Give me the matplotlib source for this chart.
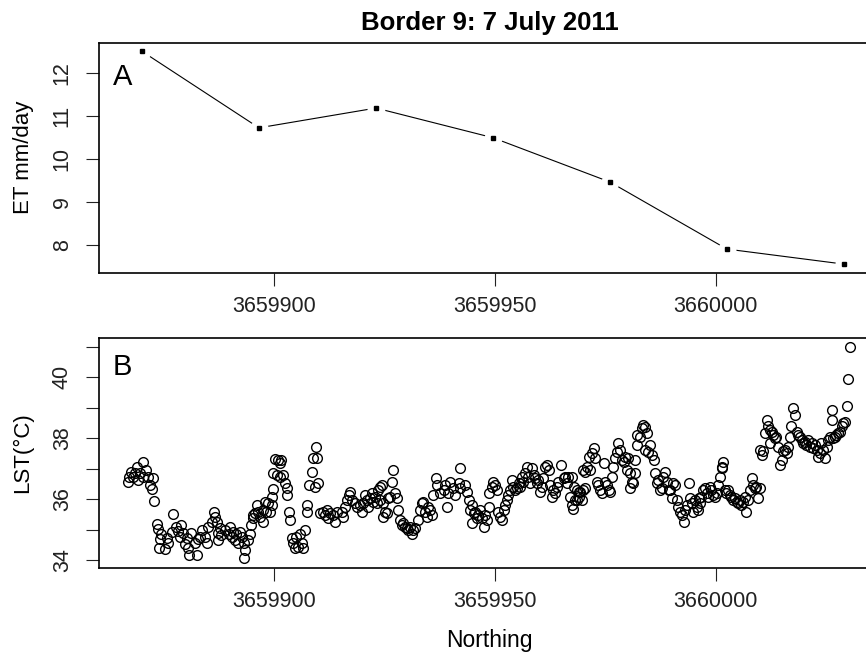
import matplotlib
matplotlib.use("Agg")
import matplotlib.pyplot as plt

plt.rcParams["font.family"] = ["Liberation Sans", "DejaVu Sans"]

# Panel A: ET along the border
et_north = [3659870.0, 3659896.5, 3659923.0, 3659949.5, 3659976.0, 3660002.5, 3660029.0]
et_vals = [12.50, 10.72, 11.18, 10.49, 9.46, 7.90, 7.55]

# Panel B: land surface temperature samples
lst_north = [
    3659870.3, 3659868.8, 3659867.6, 3659867.1, 3659866.9, 3659868.0, 3659869.5, 3659871.0,
    3659871.4, 3659872.5, 3659871.8, 3659872.2, 3659869.1, 3659870.3, 3659868.4, 3659872.8,
    3659873.3, 3659873.7, 3659874.4, 3659874.1, 3659875.6, 3659875.9, 3659875.2, 3659873.9,
    3659876.7, 3659877.1, 3659877.7, 3659878.2, 3659878.9, 3659878.6, 3659879.3, 3659880.1,
    3659879.7, 3659880.5, 3659880.7, 3659882.4, 3659881.2, 3659882.0, 3659882.7, 3659883.7,
    3659883.1, 3659884.2, 3659884.8, 3659885.0, 3659885.8, 3659886.3, 3659886.5, 3659887.0,
    3659887.3, 3659887.7, 3659888.0, 3659887.3, 3659888.8, 3659889.6, 3659889.9, 3659890.3,
    3659891.1, 3659890.7, 3659891.4, 3659892.2, 3659892.6, 3659891.8, 3659893.0, 3659893.3,
    3659893.0, 3659894.1, 3659894.5, 3659894.8, 3659895.2, 3659895.6, 3659896.0, 3659895.2,
    3659896.3, 3659896.7, 3659897.3, 3659897.5, 3659897.9, 3659898.2, 3659898.6, 3659899.0,
    3659899.4, 3659899.6, 3659899.4, 3659900.1, 3659900.9, 3659901.6, 3659901.3, 3659899.7,
    3659900.5, 3659901.3, 3659902.0, 3659902.4, 3659902.8, 3659902.9, 3659903.4, 3659903.5,
    3659903.9, 3659904.3, 3659904.7, 3659905.0, 3659905.8, 3659906.2, 3659906.9, 3659906.5,
    3659905.4, 3659907.3, 3659907.4, 3659907.9, 3659908.4, 3659908.8, 3659909.4, 3659909.6,
    3659909.9, 3659909.2, 3659910.3, 3659911.1, 3659911.8, 3659912.6, 3659912.2, 3659913.3,
    3659914.1, 3659913.7, 3659911.4,
    3659915.2, 3659915.6, 3659916.0, 3659916.8, 3659917.1, 3659916.4, 3659917.5, 3659918.3,
    3659918.6, 3659919.4, 3659919.8, 3659920.1, 3659920.5, 3659920.9, 3659921.3, 3659921.7,
    3659922.0, 3659922.4, 3659922.8, 3659923.2, 3659923.5, 3659923.9, 3659924.3, 3659923.9,
    3659924.7, 3659925.1, 3659924.7, 3659925.4, 3659925.8, 3659926.2, 3659926.6, 3659926.8,
    3659927.3, 3659927.7, 3659928.1, 3659928.5, 3659928.8, 3659929.2, 3659929.6, 3659930.0,
    3659930.3, 3659930.7, 3659931.1, 3659931.5, 3659931.9, 3659932.6, 3659933.0, 3659933.4,
    3659933.7, 3659934.1, 3659934.5, 3659934.9, 3659935.3, 3659935.6, 3659936.0, 3659936.6,
    3659936.9, 3659937.5, 3659938.3, 3659938.6, 3659939.0, 3659939.4, 3659939.8, 3659940.5,
    3659940.9, 3659942.0, 3659941.7,
    3659942.1, 3659943.2, 3659943.6, 3659944.0, 3659944.3, 3659944.7, 3659945.1, 3659945.5,
    3659944.7, 3659945.8, 3659946.2, 3659946.6, 3659947.0, 3659947.4, 3659947.7, 3659948.1,
    3659948.5, 3659948.5, 3659949.2, 3659949.6, 3659950.0, 3659950.4, 3659950.7, 3659951.1,
    3659951.5, 3659951.9, 3659952.3, 3659952.6, 3659953.0, 3659953.4, 3659953.8, 3659954.1,
    3659954.5, 3659954.9, 3659955.3, 3659955.7, 3659956.0, 3659956.4, 3659956.8, 3659957.2,
    3659957.5, 3659957.9, 3659958.3, 3659958.7, 3659959.1, 3659959.4, 3659959.8, 3659960.2,
    3659960.6, 3659960.9, 3659961.3, 3659961.7, 3659962.1, 3659962.5, 3659962.8, 3659963.2,
    3659963.6, 3659964.0, 3659964.3, 3659964.9, 3659965.5, 3659965.8, 3659966.2, 3659966.6,
    3659967.0, 3659967.4, 3659967.7, 3659968.5, 3659968.9,
    3659967.4, 3659967.8, 3659968.5, 3659968.1, 3659968.9, 3659969.3, 3659970.0, 3659969.6,
    3659970.4, 3659970.0, 3659970.4, 3659970.8, 3659971.2, 3659971.5, 3659971.9, 3659972.3,
    3659972.7, 3659973.0, 3659973.4, 3659973.8, 3659974.2, 3659974.6, 3659974.9, 3659975.3,
    3659975.7, 3659976.1, 3659976.4, 3659976.8, 3659977.2, 3659977.6, 3659977.9, 3659978.2,
    3659978.7, 3659979.1, 3659979.5, 3659979.8, 3659980.2, 3659980.6, 3659981.0, 3659980.6,
    3659981.3, 3659981.7, 3659981.7, 3659982.1, 3659982.1, 3659982.9, 3659983.2, 3659983.6,
    3659984.0, 3659984.4, 3659984.0, 3659984.7, 3659985.1, 3659985.5, 3659985.9, 3659986.3,
    3659986.6, 3659987.0, 3659987.4, 3659987.8, 3659988.1, 3659988.5, 3659988.9, 3659989.3,
    3659989.7, 3659990.0, 3659990.4, 3659990.8, 3659991.2, 3659991.5, 3659991.9, 3659992.3,
    3659992.7, 3659993.0, 3659993.4, 3659993.8, 3659994.2, 3659994.6, 3659994.9, 3659995.7,
    3659996.1,
    3659995.2, 3659996.0, 3659996.4, 3659996.7, 3659997.1, 3659997.5, 3659997.9, 3659998.3,
    3659998.6, 3659999.0, 3659999.4, 3659999.8, 3660000.2, 3660000.5, 3660000.9, 3660001.3,
    3660001.7, 3660001.5, 3660002.0, 3660002.4, 3660002.8, 3660003.2, 3660003.5, 3660003.9,
    3660004.3, 3660004.7, 3660005.1, 3660005.4, 3660005.8, 3660006.2, 3660006.6, 3660006.9,
    3660007.3, 3660007.7, 3660008.1, 3660008.5, 3660008.8, 3660009.2, 3660009.6, 3660010.0,
    3660010.0, 3660010.4, 3660010.7, 3660011.1, 3660011.5, 3660011.9, 3660012.2, 3660012.6,
    3660013.0, 3660013.4, 3660013.7, 3660012.2, 3660014.1, 3660014.5, 3660014.9, 3660015.3,
    3660015.6, 3660016.0, 3660016.4, 3660016.8, 3660017.1, 3660017.5, 3660017.9, 3660018.3,
    3660018.6, 3660019.0, 3660019.4, 3660019.8, 3660020.1, 3660020.5, 3660020.9, 3660021.3,
    3660021.7, 3660022.0, 3660022.4, 3660022.8, 3660023.2, 3660023.5, 3660023.9, 3660024.3,
    3660024.7, 3660025.1, 3660025.4, 3660025.8, 3660026.2, 3660026.4, 3660026.6, 3660026.9,
    3660027.3, 3660027.7, 3660028.1, 3660028.5, 3660028.8, 3660029.2, 3660029.7, 3660030.0,
    3660030.3,
]
lst_vals = [
    37.23, 37.06, 36.90, 36.73, 36.57, 36.73, 36.84, 36.95,
    36.73, 36.68, 36.46, 36.32, 36.62, 36.73, 36.84, 35.94,
    35.17, 35.01, 34.85, 34.68, 34.71, 34.55, 34.36, 34.38,
    34.93, 35.50, 35.09, 34.96, 35.15, 34.77, 34.90, 34.71,
    34.52, 34.38, 34.15, 34.16, 34.88, 34.57, 34.68, 34.98,
    34.77, 34.74, 34.55, 35.07, 35.26, 35.58, 35.42, 35.26,
    34.88, 35.04, 34.82, 34.66, 34.98, 34.87, 35.09, 34.77,
    34.66, 34.93, 34.85, 34.93, 34.77, 34.55, 34.55, 34.33,
    34.06, 34.66, 34.85, 35.15, 35.37, 35.53, 35.80, 35.48,
    35.58, 35.42, 35.26, 35.64, 35.91, 35.58, 35.86, 35.58,
    36.08, 36.32, 35.80, 37.30, 37.28, 37.28, 37.17, 36.84,
    36.79, 36.73, 36.79, 36.52, 36.35, 36.13, 35.58, 35.31,
    34.71, 34.55, 34.38, 34.77, 34.85, 34.55, 34.98, 34.38,
    34.44, 35.58, 35.80, 36.46, 36.90, 37.34, 37.72, 37.34,
    36.52, 36.41, 35.53, 35.58, 35.64, 35.53, 35.37, 35.48,
    35.58, 35.26, 35.48,
    35.58, 35.42, 35.75, 36.13, 36.24, 35.97, 35.97, 35.86,
    35.75, 35.80, 35.58, 35.86, 36.13, 35.97, 35.75, 36.02,
    36.19, 35.91, 36.08, 35.86, 36.30, 36.41, 36.46, 35.97,
    35.86, 35.58, 35.42, 35.53, 36.02, 36.08, 36.57, 36.95,
    36.19, 36.02, 35.64, 35.31, 35.15, 35.20, 35.09, 35.04,
    34.98, 35.09, 34.85, 34.98, 35.04, 35.31, 35.64, 35.86,
    35.91, 35.58, 35.42, 35.75, 35.64, 35.48, 36.13, 36.68,
    36.46, 36.19, 36.30, 36.46, 35.75, 36.19, 36.57, 36.35,
    36.13, 37.01, 36.52,
    36.35, 36.46, 36.24, 35.97, 35.64, 35.80, 35.53, 35.58,
    35.20, 35.37, 35.48, 35.64, 35.37, 35.09, 35.48, 35.31,
    35.75, 36.19, 36.41, 36.57, 36.46, 36.30, 35.58, 35.42,
    35.31, 35.64, 35.80, 35.97, 36.13, 36.30, 36.62, 36.41,
    36.30, 36.35, 36.52, 36.41, 36.73, 36.57, 36.84, 37.04,
    36.73, 36.52, 37.01, 36.79, 36.68, 36.52, 36.62, 36.24,
    36.41, 36.68, 37.06, 37.12, 36.95, 36.46, 36.08, 36.30,
    36.19, 36.41, 36.57, 37.12, 36.68, 36.73, 36.52, 36.73,
    36.08, 35.80, 35.69, 35.97, 36.24,
    36.73, 36.41, 36.30, 35.97, 36.08, 36.24, 36.30, 35.97,
    36.35, 36.95, 36.90, 37.06, 37.39, 36.95, 37.50, 37.66,
    37.34, 36.57, 36.46, 36.30, 36.19, 37.17, 36.57, 36.46,
    36.30, 36.24, 36.73, 37.06, 37.34, 37.55, 37.83, 37.61,
    37.28, 37.23, 37.39, 36.95, 37.34, 36.84, 36.57, 36.35,
    36.52, 36.84, 37.28, 37.77, 38.10, 38.05, 38.32, 38.43,
    38.37, 38.16, 37.61, 37.55, 37.77, 37.45, 37.28, 36.84,
    36.52, 36.62, 36.30, 36.35, 36.73, 36.90, 36.57, 36.30,
    36.30, 36.02, 36.52, 36.46, 35.97, 35.75, 35.58, 35.48,
    35.26, 35.64, 35.80, 36.52, 36.02, 35.86, 35.58, 35.75,
    36.02,
    35.97, 35.64, 35.86, 36.08, 36.30, 36.35, 36.19, 36.08,
    36.41, 36.30, 36.13, 36.08, 36.19, 36.46, 36.73, 37.01,
    37.23, 37.06, 36.30, 36.19, 36.30, 36.13, 36.08, 35.97,
    36.02, 35.91, 35.86, 35.97, 35.80, 35.91, 36.08, 35.58,
    35.97, 36.30, 36.68, 36.46, 36.35, 36.41, 36.02, 36.35,
    37.61, 37.45, 37.56, 38.16, 38.60, 38.38, 38.27, 38.21,
    38.10, 37.99, 38.05, 37.83, 37.72, 37.12, 37.28, 37.56,
    37.61, 37.50, 37.72, 38.05, 38.38, 38.98, 38.76, 38.21,
    38.10, 38.05, 37.94, 37.83, 37.88, 37.77, 37.94, 37.72,
    37.83, 37.67, 37.77, 37.61, 37.39, 37.50, 37.83, 37.61,
    37.34, 37.72, 37.94, 38.05, 38.92, 38.60, 37.99, 38.05,
    38.10, 38.16, 38.21, 38.38, 38.49, 38.54, 39.05, 39.93,
    41.00,
]

et_ticks = [8, 9, 10, 11, 12]
lst_ticks = [34, 35, 36, 37, 38, 39, 40, 41]
lst_ticklabels = ["34", "", "36", "", "38", "", "40", ""]
north_ticks = [3659900, 3659950, 3660000]
north_labels = ["3659900", "3659950", "3660000"]

fig = plt.figure(figsize=(8.66, 6.54), dpi=100)
# right edge of the boxes sits past the image border (cropped like the original)
ax1 = fig.add_axes([0.1140, 0.5830, 0.9033, 0.3517])
ax2 = fig.add_axes([0.1140, 0.1315, 0.9033, 0.3517])

xlim = (3659860.2, 3660037.4)


def style(ax):
    for s in ax.spines.values():
        s.set_linewidth(1.2)
        s.set_color("black")
    ax.tick_params(direction="out", length=9.2, width=0.8, labelsize=15.5,
                   colors="#222222")
    ax.tick_params(axis="x", pad=7.5)
    ax.tick_params(axis="y", pad=9.5, labelrotation=90)
    ax.set_xlim(*xlim)
    ax.set_xticks(north_ticks, labels=north_labels)


# panel A (type="b": line with gaps at the points)
ax1.plot(et_north, et_vals, color="black", lw=0.8, zorder=2)
ax1.plot(et_north, et_vals, ls="none", marker="o", ms=13, mfc="white",
         mec="none", zorder=2.2)
ax1.plot(et_north, et_vals, ls="none", marker="s", ms=3.2, color="black",
         zorder=2.4)
ax1.set_ylim(7.35, 12.70)
ax1.set_yticks(et_ticks)
style(ax1)
ax1.set_ylabel("ET mm/day", fontsize=16)
ax1.yaxis.set_label_coords(-0.0833, 0.5)
ax1.set_title("Border 9: 7 July 2011", fontsize=18.5, fontweight="bold", pad=9)
ax1.text(0.0183, 0.816, "A", transform=ax1.transAxes, fontsize=21,
         ha="left", va="baseline")

# panel B
ax2.plot(lst_north, lst_vals, ls="none", marker="o", ms=7.0, mfc="none",
         mec="black", mew=1.0)
ax2.set_ylim(33.74, 41.28)
ax2.set_yticks(lst_ticks, labels=lst_ticklabels)
style(ax2)
ax2.set_ylabel("LST(°C)", fontsize=16)
ax2.yaxis.set_label_coords(-0.0833, 0.5)
ax2.set_xlabel("Northing", fontsize=16.5)
ax2.xaxis.set_label_coords(0.5, -0.265)
ax2.text(0.0183, 0.839, "B", transform=ax2.transAxes, fontsize=21,
         ha="left", va="baseline")

for ax in (ax1, ax2):
    for lab in ax.get_yticklabels():
        lab.set_va("center")

fig.savefig("out.png", dpi=100)
